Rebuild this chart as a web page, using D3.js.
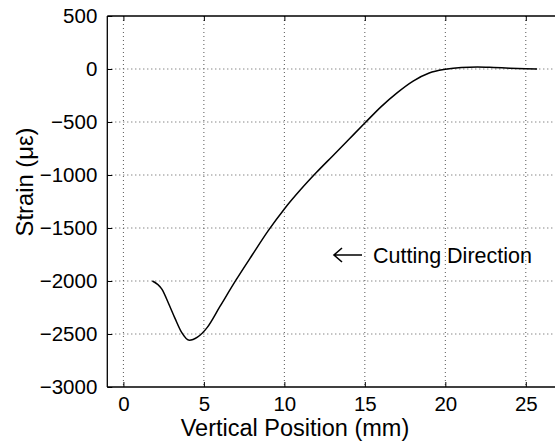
<!DOCTYPE html>
<html>
<head>
<meta charset="utf-8">
<script src="https://cdn.jsdelivr.net/npm/d3@7"></script>
<style>
  body { margin: 0; background: #fff; }
  text { font-family: "Liberation Sans", Arial, sans-serif; fill: #000; }
  .grid line { stroke: #555; stroke-dasharray: 1,3; stroke-width: 1; }
</style>
</head>
<body>
<svg id="chart" width="555" height="445"></svg>
<script>
// strain readings along the cut
var position = [1.8, 2.4, 2.8, 3.2, 3.6, 4.1, 4.6, 5.2, 6.0, 7.0, 8.0, 9.0, 10.0, 11.0, 12.0,
                13.0, 14.0, 15.0, 16.0, 17.0, 18.0, 19.0, 20.0, 21.0, 22.0, 23.0, 24.0, 25.0, 25.7];
var strain = [-2000, -2080, -2210, -2350, -2480, -2560, -2530, -2440, -2240, -1990, -1755, -1525, -1320, -1140, -975,
              -820, -665, -510, -357, -225, -114, -38, -3, 15, 20, 15, 8, 3, 0];

var xTicks = [0, 5, 10, 15, 20, 25];
var yTicks = [500, 0, -500, -1000, -1500, -2000, -2500, -3000];

var svg = d3.select('#chart');

var m = {left: 107.3, right: 558, top: 16, bottom: 387};

var x = d3.scaleLinear().domain([-1, 27]).range([m.left, m.right]);
var y = d3.scaleLinear().domain([-3000, 500]).range([m.bottom, m.top]);

var fmt = function(d) { return d < 0 ? '\u2212' + Math.abs(d) : '' + d; };

// grid
var grid = svg.append('g').attr('class', 'grid');
grid.selectAll('.gx').data(xTicks).enter().append('line')
    .attr('x1', d => x(d)).attr('x2', d => x(d))
    .attr('y1', m.top).attr('y2', m.bottom);
grid.selectAll('.gy').data(yTicks.slice(1, -1)).enter().append('line')
    .attr('x1', m.left).attr('x2', m.right)
    .attr('y1', d => y(d)).attr('y2', d => y(d));

// axes (ticks point inward like matlab)
var xAxis = svg.append('g').attr('transform', 'translate(0,' + m.bottom + ')')
    .call(d3.axisBottom(x).tickValues(xTicks).tickSize(-5).tickPadding(9).tickFormat(fmt));
var xTop = svg.append('g').attr('transform', 'translate(0,' + m.top + ')')
    .call(d3.axisTop(x).tickValues(xTicks).tickSize(-5).tickFormat(''));
var yAxis = svg.append('g').attr('transform', 'translate(' + m.left + ',0)')
    .call(d3.axisLeft(y).tickValues(yTicks).tickSize(-5).tickPadding(10).tickFormat(fmt));

[xAxis, xTop, yAxis].forEach(function(g) {
    g.select('.domain').attr('stroke', '#000').attr('stroke-width', 1.3);
    g.selectAll('.tick line').attr('stroke', '#000');
    g.selectAll('text').style('font-size', '20.5px').attr('fill', '#000');
});
xAxis.select('.domain').attr('d', 'M' + m.left + ',0H' + m.right);
xTop.select('.domain').attr('d', 'M' + m.left + ',0H' + m.right);
yAxis.select('.domain').attr('d', 'M0,' + m.bottom + 'V' + m.top);

// curve
var line = d3.line().x((d, i) => x(position[i])).y(d => y(d)).curve(d3.curveMonotoneX);
svg.append('path')
    .datum(strain)
    .attr('d', line)
    .attr('fill', 'none')
    .attr('stroke', '#000')
    .attr('stroke-width', 1.5);

// annotation: arrow drawn as a path, then the text
svg.append('path')
    .attr('d', 'M334,255H362M342,248L334,255L342,262')
    .attr('fill', 'none')
    .attr('stroke', '#000')
    .attr('stroke-width', 1.6);
svg.append('text').attr('x', 373).attr('y', 263).style('font-size', '21.5px').text('Cutting Direction');

// labels
svg.append('text')
    .attr('x', 295).attr('y', 436)
    .attr('text-anchor', 'middle')
    .style('font-size', '23.5px')
    .text('Vertical Position (mm)');

svg.append('text')
    .attr('transform', 'translate(33,182) rotate(-90)')
    .attr('text-anchor', 'middle')
    .style('font-size', '23.8px')
    .text('Strain (\u03bc\u03b5)');
</script>
</body>
</html>
